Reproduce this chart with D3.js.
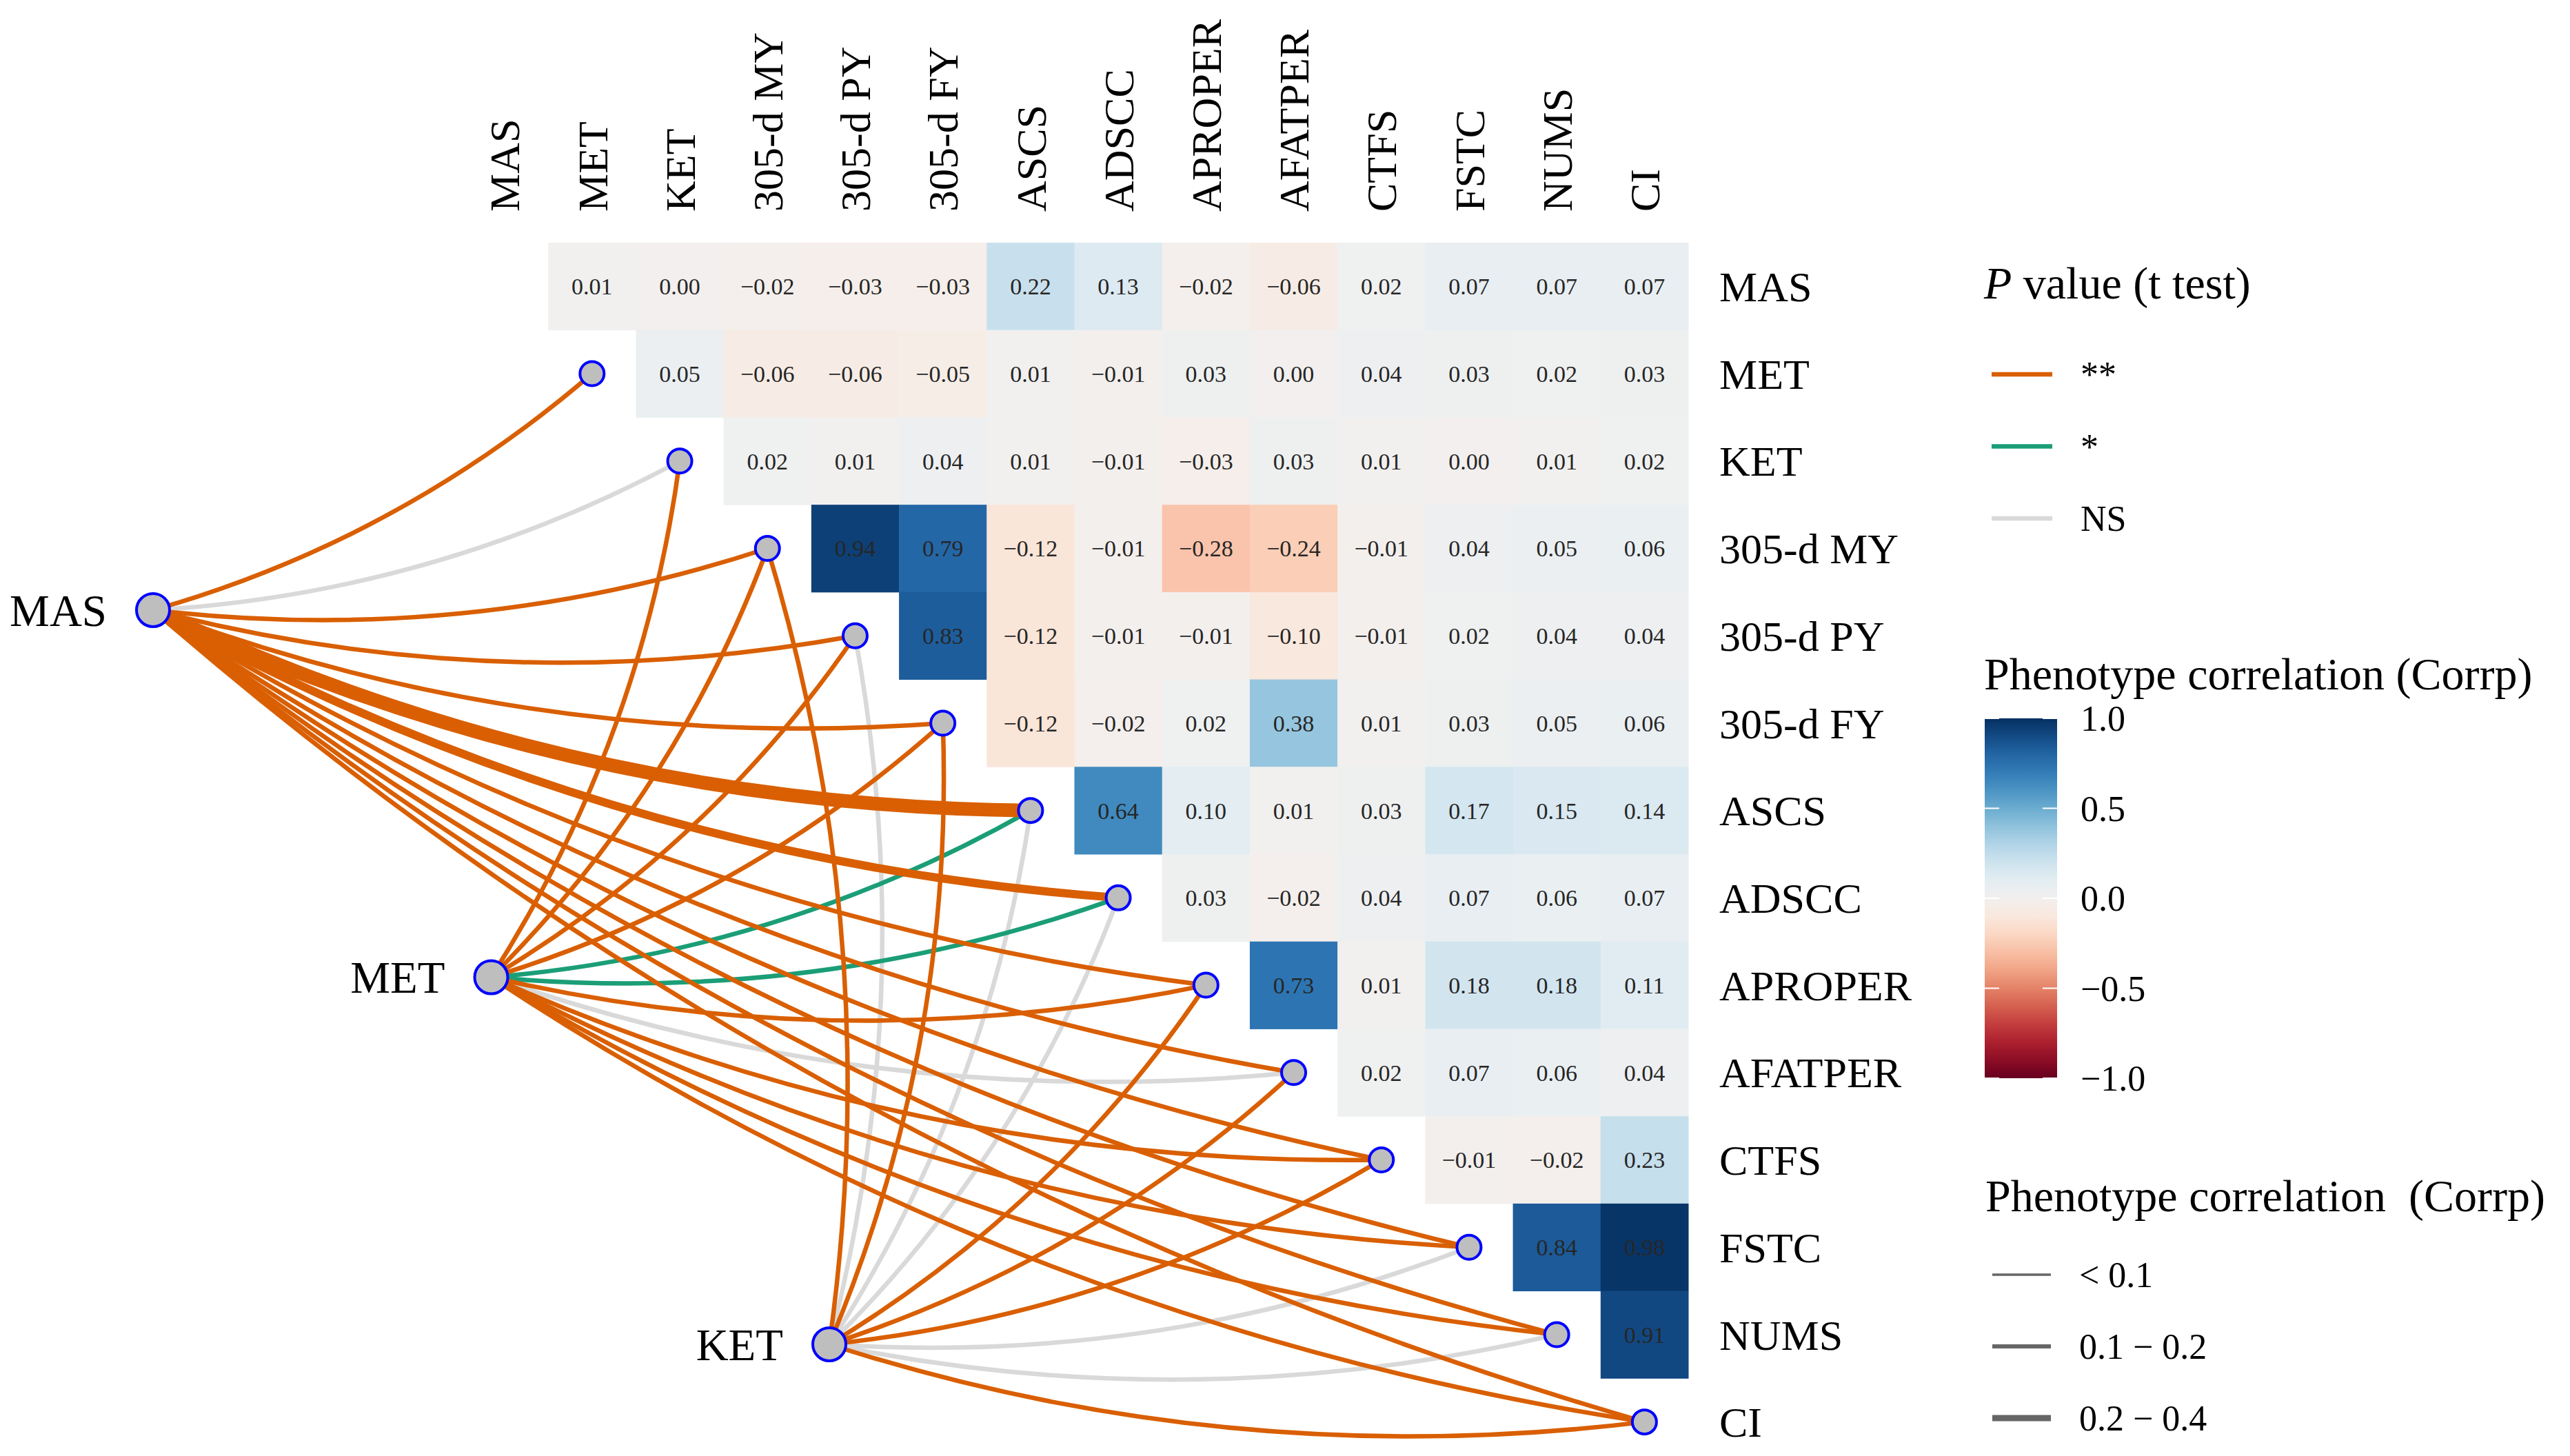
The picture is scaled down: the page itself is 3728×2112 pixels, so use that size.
<!DOCTYPE html>
<html>
<head>
<meta charset="utf-8">
<script src="https://cdn.jsdelivr.net/npm/d3@7"></script>
<style>
  body { margin: 0; background: #fff; }
  text { font-family: "Liberation Serif", "Times New Roman", serif; }
</style>
</head>
<body>
<div id="chart"></div>
<script>
// variables (heatmap rows / columns)
var vars = ["MAS", "MET", "KET", "305-d MY", "305-d PY", "305-d FY", "ASCS", "ADSCC",
            "APROPER", "AFATPER", "CTFS", "FSTC", "NUMS", "CI"];

// upper triangle of the phenotype correlation matrix, row i holds columns i+1 .. 13
var corrUpper = [
  [0.01, 0.00, -0.02, -0.03, -0.03, 0.22, 0.13, -0.02, -0.06, 0.02, 0.07, 0.07, 0.07],
  [0.05, -0.06, -0.06, -0.05, 0.01, -0.01, 0.03, 0.00, 0.04, 0.03, 0.02, 0.03],
  [0.02, 0.01, 0.04, 0.01, -0.01, -0.03, 0.03, 0.01, 0.00, 0.01, 0.02],
  [0.94, 0.79, -0.12, -0.01, -0.28, -0.24, -0.01, 0.04, 0.05, 0.06],
  [0.83, -0.12, -0.01, -0.01, -0.10, -0.01, 0.02, 0.04, 0.04],
  [-0.12, -0.02, 0.02, 0.38, 0.01, 0.03, 0.05, 0.06],
  [0.64, 0.10, 0.01, 0.03, 0.17, 0.15, 0.14],
  [0.03, -0.02, 0.04, 0.07, 0.06, 0.07],
  [0.73, 0.01, 0.18, 0.18, 0.11],
  [0.02, 0.07, 0.06, 0.04],
  [-0.01, -0.02, 0.23],
  [0.84, 0.98],
  [0.91]
];

// link significance, spec -> every later variable
var specVars = ["MAS", "MET", "KET"];
var sigMAS = ["**", "NS", "**", "**", "**", "**", "**", "**", "**", "**", "**", "**", "**"];
var sigMET = ["**", "**", "**", "**", "*", "*", "**", "NS", "**", "**", "**", "**"];
var sigKET = ["**", "NS", "**", "NS", "NS", "**", "**", "**", "NS", "NS", "**"];
var sigLists = [sigMAS, sigMET, sigKET];

var sigLevels = ["**", "*", "NS"];
var sizeLabels = ["< 0.1", "0.1 \u2212 0.2", "0.2 \u2212 0.4"];
var colorTicks = [1, 0.5, 0, -0.5, -1];

var W = 3728, H = 2112;
var svg = d3.select("#chart").append("svg")
    .attr("width", W)
    .attr("height", H);

// scales
var x = d3.scaleBand().domain(vars).range([668, 2449]);
var y = d3.scaleBand().domain(vars).range([352, 2126]);
var fill = d3.scaleSequential(d3.interpolateRdBu).domain([-1, 1]);
var sigColour = d3.scaleOrdinal().domain(sigLevels).range(["#D95F02", "#1B9E77", "#D9D9D9"]);
var linkWidth = d3.scaleThreshold().domain([0.1, 0.2]).range([6.5, 12, 20]);
var specX = d3.scaleLinear().domain([0, 2]).range([222, 1203]);
var specY = d3.scaleLinear().domain([0, 2]).range([885, 1950]);
var fmt2 = d3.format(".2f");

// heatmap cells
var cells = [];
corrUpper.forEach(function(row, i) {
    row.forEach(function(v, k) {
        cells.push({row: vars[i], col: vars[i + k + 1], value: v});
    });
});

var cellGroup = svg.append("g").attr("class", "cells");
cellGroup.selectAll("rect")
    .data(cells)
    .enter().append("rect")
    .attr("x", function(d) { return x(d.col); })
    .attr("y", function(d) { return y(d.row); })
    .attr("width", x.bandwidth() + 0.5)
    .attr("height", y.bandwidth() + 0.5)
    .attr("fill", function(d) { return fill(d.value); });

cellGroup.selectAll("text")
    .data(cells)
    .enter().append("text")
    .attr("x", function(d) { return x(d.col) + x.bandwidth() / 2; })
    .attr("y", function(d) { return y(d.row) + y.bandwidth() / 2; })
    .attr("dy", "0.35em")
    .attr("text-anchor", "middle")
    .style("font-size", "34px")
    .attr("fill", "#262626")
    .text(function(d) { return fmt2(d.value); });

// axis labels
svg.append("g").selectAll("text")
    .data(vars)
    .enter().append("text")
    .attr("transform", function(d) { return "translate(" + (x(d) + x.bandwidth() / 2) + ",307) rotate(-90)"; })
    .attr("dy", "0.35em")
    .style("font-size", "62px")
    .attr("fill", "#000")
    .text(function(d) { return d; });

svg.append("g").selectAll("text")
    .data(vars)
    .enter().append("text")
    .attr("x", 2494)
    .attr("y", function(d) { return y(d) + y.bandwidth() / 2; })
    .attr("dy", "0.35em")
    .style("font-size", "62px")
    .attr("fill", "#000")
    .text(function(d) { return d; });

// links
var links = [];
sigLists.forEach(function(list, s) {
    list.forEach(function(sig, k) {
        var e = s + k + 1;
        links.push({
            spec: s,
            env: vars[e],
            sig: sig,
            r: corrUpper[s][k]
        });
    });
});

function curvePath(d) {
    var x1 = specX(d.spec), y1 = specY(d.spec);
    var x2 = x(d.env) + x.bandwidth() / 2, y2 = y(d.env) + y.bandwidth() / 2;
    var dx = x2 - x1, dy = y2 - y1;
    var k = 0.11;
    var cx = (x1 + x2) / 2 - dy * k, cy = (y1 + y2) / 2 + dx * k;
    return "M" + x1 + "," + y1 + "Q" + cx + "," + cy + " " + x2 + "," + y2;
}

var order = {"NS": 0, "*": 1, "**": 2};
links.sort(function(a, b) { return order[a.sig] - order[b.sig]; });

svg.append("g").attr("class", "links")
    .selectAll("path")
    .data(links)
    .enter().append("path")
    .attr("d", curvePath)
    .attr("fill", "none")
    .attr("stroke", function(d) { return sigColour(d.sig); })
    .attr("stroke-width", function(d) { return linkWidth(Math.abs(d.r)); });

// env nodes on the diagonal
svg.append("g").selectAll("circle")
    .data(vars.slice(1))
    .enter().append("circle")
    .attr("cx", function(d) { return x(d) + x.bandwidth() / 2; })
    .attr("cy", function(d) { return y(d) + y.bandwidth() / 2; })
    .attr("r", 17.5)
    .attr("fill", "#BEBEBE")
    .attr("stroke", "#0000FF")
    .attr("stroke-width", 4);

// spec nodes + labels
var spec = svg.append("g").selectAll("g")
    .data(specVars)
    .enter().append("g");

spec.append("circle")
    .attr("cx", function(d, i) { return specX(i); })
    .attr("cy", function(d, i) { return specY(i); })
    .attr("r", 24)
    .attr("fill", "#BEBEBE")
    .attr("stroke", "#0000FF")
    .attr("stroke-width", 4);

spec.append("text")
    .attr("x", function(d, i) { return specX(i) - 67; })
    .attr("y", function(d, i) { return specY(i); })
    .attr("dy", "0.35em")
    .attr("text-anchor", "end")
    .style("font-size", "65px")
    .text(function(d) { return d; });

// legend: P value
var lg = svg.append("g").attr("transform", "translate(2878,0)");
var pTitle = lg.append("text")
    .attr("x", 0).attr("y", 433)
    .style("font-size", "66px");
pTitle.append("tspan").style("font-style", "italic").text("P");
pTitle.append("tspan").text(" value (t test)");

var pItems = lg.selectAll(".pitem")
    .data(sigLevels)
    .enter().append("g")
    .attr("class", "pitem")
    .attr("transform", function(d, i) { return "translate(0," + (543 + i * 104.5) + ")"; });

pItems.append("line")
    .attr("x1", 11).attr("x2", 99)
    .attr("stroke", function(d) { return sigColour(d); })
    .attr("stroke-width", 6.5);

pItems.append("text")
    .attr("x", 140)
    .attr("dy", "0.35em")
    .style("font-size", "52px")
    .text(function(d) { return d; });

// legend: colour bar
lg.append("text")
    .attr("x", 0).attr("y", 1000)
    .style("font-size", "66px")
    .text("Phenotype correlation (Corrp)");

var barY = d3.scaleLinear().domain([-1, 1]).range([1564, 1042]);
var defs = svg.append("defs");
var grad = defs.append("linearGradient")
    .attr("id", "corrGrad")
    .attr("x1", 0).attr("y1", 1).attr("x2", 0).attr("y2", 0);
d3.range(0, 1.0001, 0.05).forEach(function(t) {
    grad.append("stop")
        .attr("offset", t)
        .attr("stop-color", d3.interpolateRdBu(t));
});

lg.append("rect")
    .attr("x", 1).attr("y", barY(1))
    .attr("width", 105)
    .attr("height", barY(-1) - barY(1))
    .attr("fill", "url(#corrGrad)");

var ticks = lg.selectAll(".ctick")
    .data(colorTicks)
    .enter().append("g")
    .attr("class", "ctick")
    .attr("transform", function(d) { return "translate(0," + barY(d) + ")"; });

ticks.append("line")
    .attr("x1", 1).attr("x2", 22)
    .attr("stroke", "#fff").attr("stroke-width", 2);
ticks.append("line")
    .attr("x1", 85).attr("x2", 106)
    .attr("stroke", "#fff").attr("stroke-width", 2);
ticks.append("text")
    .attr("x", 140)
    .attr("dy", "0.35em")
    .style("font-size", "52px")
    .text(function(d) { return d3.format(".1f")(d); });

// legend: line width
lg.append("text")
    .attr("x", 2).attr("y", 1757)
    .style("font-size", "66px")
    .style("white-space", "pre")
    .attr("xml:space", "preserve")
    .text("Phenotype correlation  (Corrp)");

var sizeKeys = [3.3, 6, 9];
var sItems = lg.selectAll(".sitem")
    .data(sizeLabels)
    .enter().append("g")
    .attr("class", "sitem")
    .attr("transform", function(d, i) { return "translate(0," + (1849 + i * 104) + ")"; });

sItems.append("line")
    .attr("x1", 12).attr("x2", 97)
    .attr("stroke", "#666")
    .attr("stroke-width", function(d, i) { return sizeKeys[i]; });

sItems.append("text")
    .attr("x", 138)
    .attr("dy", "0.35em")
    .style("font-size", "52px")
    .text(function(d) { return d; });
</script>
</body>
</html>
